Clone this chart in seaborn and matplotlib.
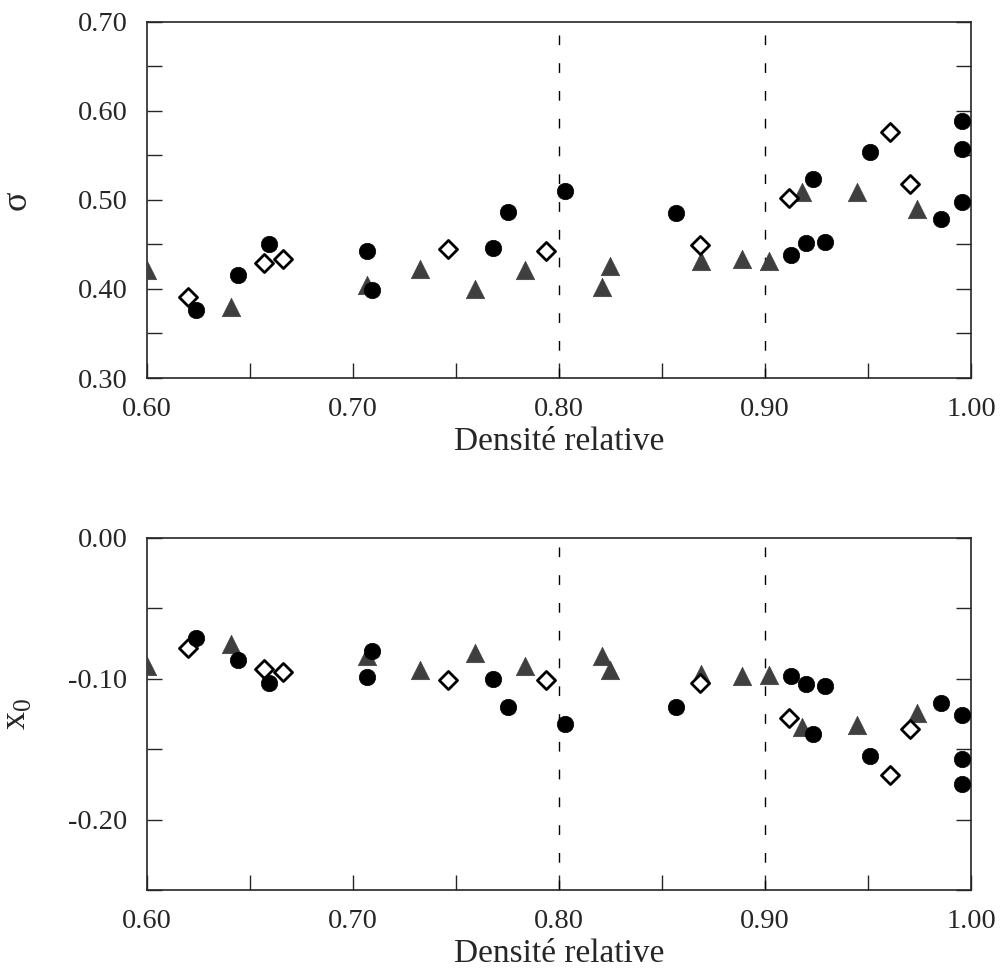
import numpy as np
import pandas as pd
import seaborn as sns
import matplotlib.pyplot as plt
from matplotlib.ticker import MultipleLocator, FormatStrFormatter

# ---- data ----
circ_x = [0.624, 0.644, 0.659, 0.707, 0.709, 0.768, 0.775, 0.803, 0.857,
          0.9126, 0.920, 0.9233, 0.929, 0.951, 0.9854, 0.9956, 0.9956, 0.9956]
circ_sigma = [0.376, 0.416, 0.451, 0.443, 0.399, 0.446, 0.486, 0.510, 0.485,
              0.438, 0.452, 0.524, 0.453, 0.554, 0.479, 0.589, 0.557, 0.498]
circ_x0 = [-0.071, -0.087, -0.103, -0.099, -0.080, -0.100, -0.120, -0.132, -0.120,
           -0.098, -0.104, -0.139, -0.105, -0.155, -0.117, -0.126, -0.157, -0.175]

tri_x = [0.600, 0.641, 0.707, 0.7325, 0.759, 0.7835, 0.821, 0.8248, 0.869,
         0.889, 0.902, 0.918, 0.9447, 0.9738]
tri_sigma = [0.421, 0.380, 0.404, 0.422, 0.400, 0.421, 0.402, 0.426, 0.431,
             0.434, 0.431, 0.509, 0.509, 0.490]
tri_x0 = [-0.091, -0.075, -0.084, -0.094, -0.082, -0.091, -0.084, -0.094, -0.0965,
          -0.098, -0.097, -0.134, -0.133, -0.124]

dia_x = [0.620, 0.657, 0.666, 0.746, 0.7937, 0.8685, 0.9117, 0.9607, 0.9704]
dia_sigma = [0.391, 0.429, 0.434, 0.445, 0.443, 0.449, 0.502, 0.576, 0.518]
dia_x0 = [-0.078, -0.093, -0.095, -0.101, -0.101, -0.103, -0.128, -0.168, -0.136]

vlines = [0.80, 0.90]

sns.set_style("ticks")
plt.rcParams['font.family'] = ['Liberation Serif', 'DejaVu Serif']
plt.rcParams['mathtext.fontset'] = 'custom'
plt.rcParams['mathtext.rm'] = 'Liberation Serif'

df_c = pd.DataFrame({"x": circ_x, "sigma": circ_sigma, "x0": circ_x0})
df_t = pd.DataFrame({"x": tri_x, "sigma": tri_sigma, "x0": tri_x0})
df_d = pd.DataFrame({"x": dia_x, "sigma": dia_sigma, "x0": dia_x0})

fig = plt.figure(figsize=(10.05, 9.76), dpi=100)
ax1 = fig.add_axes([0.1463, 0.6127, 0.8199, 0.3648])
ax2 = fig.add_axes([0.1463, 0.0881, 0.8199, 0.3607])

panels = [(ax1, "sigma", (0.30, 0.70), "σ", [0.30, 0.40, 0.50, 0.60, 0.70]),
          (ax2, "x0", (-0.25, 0.00), r"x$_\mathrm{0}$", [-0.20, -0.10, 0.00])]

for ax, col, ylim, ylab, yt in panels:
    for v in vlines:
        ax.axvline(v, color="black", lw=1.0, dashes=(7, 13), zorder=1)
    sns.scatterplot(data=df_t, x="x", y=col, ax=ax, marker="^", s=175,
                    color="#3f3f3f", edgecolor="#3f3f3f", linewidth=0.5, zorder=3)
    sns.scatterplot(data=df_d, x="x", y=col, ax=ax, marker="D", s=85,
                    facecolor="white", edgecolor="black", linewidth=2.0, zorder=4)
    sns.scatterplot(data=df_c, x="x", y=col, ax=ax, marker="o", s=140,
                    color="black", edgecolor="black", linewidth=0.5, zorder=5)

    ax.set_xlim(0.60, 1.00)
    ax.set_ylim(*ylim)
    ax.xaxis.set_major_locator(MultipleLocator(0.1))
    ax.xaxis.set_minor_locator(MultipleLocator(0.05))
    ax.set_yticks(yt)
    ax.yaxis.set_minor_locator(MultipleLocator(0.05))
    ax.xaxis.set_major_formatter(FormatStrFormatter("%.2f"))
    ax.yaxis.set_major_formatter(FormatStrFormatter("%.2f"))
    ax.tick_params(which="both", direction="in", length=11, width=1.0,
                   top=False, right=True, labelsize=20.5, pad=14)
    for sp in ax.spines.values():
        sp.set_linewidth(1.2)
    ax.set_xlabel("Densité relative", fontsize=24, labelpad=3)
    ax.set_ylabel(ylab, fontsize=26)
    ax.yaxis.set_label_coords(-0.138, 0.5)

fig.savefig("out.png", dpi=100)
